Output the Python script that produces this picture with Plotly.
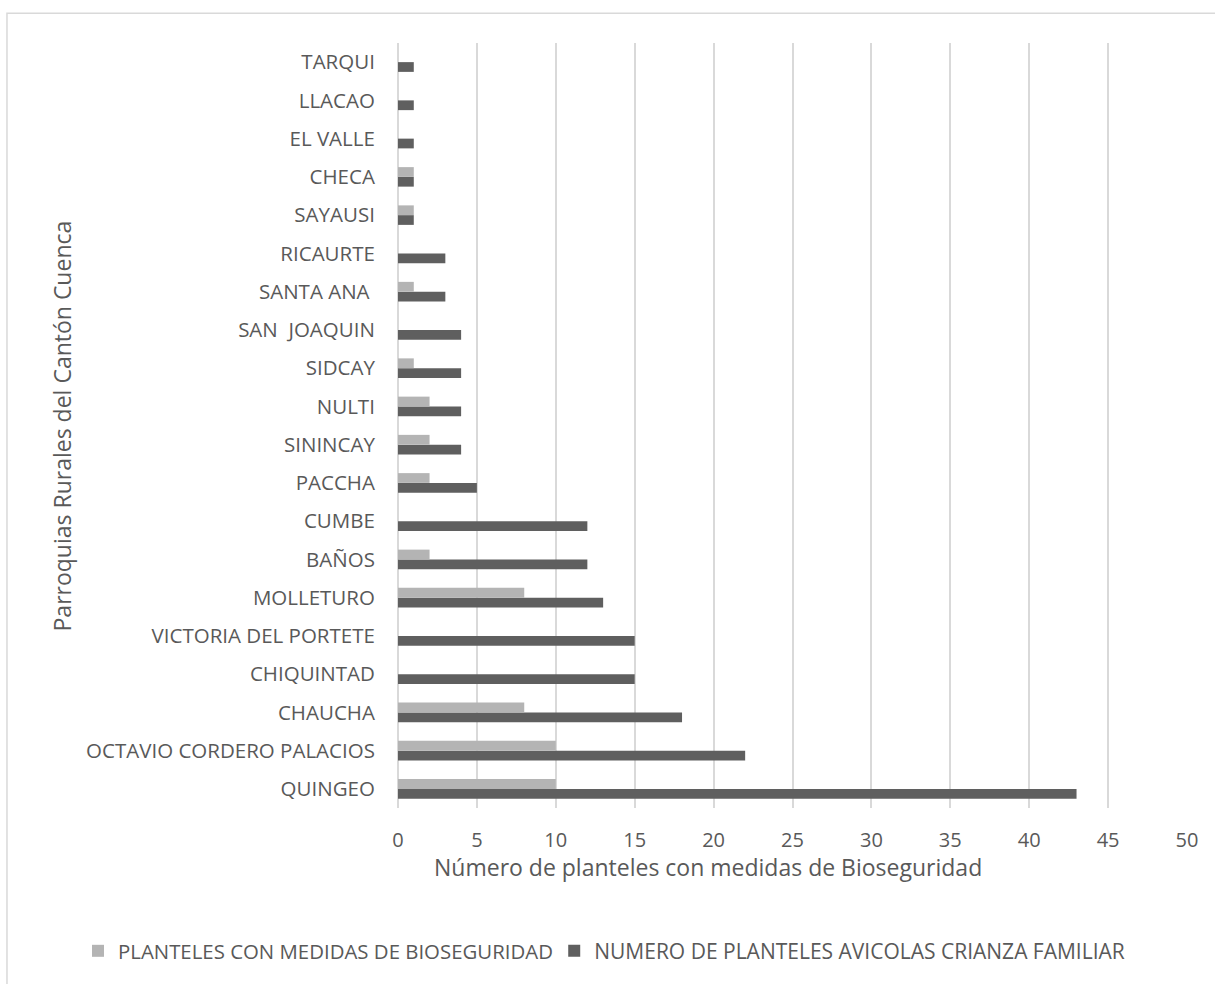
import plotly.graph_objects as go

# Parroquias listed from the bottom of the chart to the top
parroquias = [
    "QUINGEO", "OCTAVIO CORDERO PALACIOS", "CHAUCHA", "CHIQUINTAD",
    "VICTORIA DEL PORTETE", "MOLLETURO", "BAÑOS", "CUMBE", "PACCHA",
    "SININCAY", "NULTI", "SIDCAY", "SAN  JOAQUIN", "SANTA ANA ", "RICAURTE",
    "SAYAUSI", "CHECA", "EL VALLE", "LLACAO", "TARQUI",
]
planteles_avicolas = [43, 22, 18, 15, 15, 13, 12, 12, 5, 4, 4, 4, 4, 3, 3, 1, 1, 1, 1, 1]
planteles_bioseguridad = [10, 10, 8, 0, 0, 8, 2, 0, 2, 2, 2, 1, 0, 1, 0, 1, 1, 0, 0, 0]
x_ticks = [0, 5, 10, 15, 20, 25, 30, 35, 40, 45, 50]

FONT = "Open Sans"
TEXT = "#595959"
GRID = "#d9d9d9"

fig = go.Figure()
fig.add_trace(go.Bar(
    y=parroquias, x=planteles_avicolas, orientation="h",
    name="NUMERO DE PLANTELES AVICOLAS CRIANZA FAMILIAR",
    marker=dict(color="#5f5f5f", line=dict(width=0)),
    legend="legend2",
))
fig.add_trace(go.Bar(
    y=parroquias, x=planteles_bioseguridad, orientation="h",
    name="PLANTELES CON MEDIDAS DE BIOSEGURIDAD",
    marker=dict(color="#b4b4b4", line=dict(width=0)),
    legend="legend",
))

legend_style = dict(
    orientation="h", yanchor="middle", y=-0.187, xanchor="left",
    itemwidth=30, bgcolor="rgba(0,0,0,0)",
)

fig.update_layout(
    width=1215, height=984,
    margin=dict(l=398, r=28, t=43, b=171),
    paper_bgcolor="white", plot_bgcolor="white",
    barmode="group", bargap=0.49, bargroupgap=0,
    font=dict(family=FONT, color=TEXT, size=20),
    showlegend=True,
    legend=dict(legend_style, x=-0.4056, font=dict(size=20.4, color=TEXT)),
    legend2=dict(legend_style, x=0.198, font=dict(size=21, color=TEXT)),
    xaxis=dict(
        range=[0, 50], tickvals=x_ticks, showgrid=True, gridcolor=GRID,
        gridwidth=1.5, zeroline=True, zerolinecolor=GRID, zerolinewidth=1.5,
        showline=False, ticks="outside", ticklen=14, tickcolor="rgba(0,0,0,0)",
        tickfont=dict(size=20, color=TEXT),
    ),
    yaxis=dict(
        categoryorder="array", categoryarray=parroquias,
        showgrid=False, showline=False, ticks="outside", ticklen=18,
        tickcolor="rgba(0,0,0,0)", tickfont=dict(size=20.5, color=TEXT),
    ),
    annotations=[
        dict(text="Número de planteles con medidas de Bioseguridad",
             xref="paper", yref="paper", x=0.393, y=-0.077,
             xanchor="center", yanchor="middle", showarrow=False,
             font=dict(size=23, color=TEXT)),
        dict(text="Parroquias Rurales del Cantón Cuenca",
             xref="paper", yref="paper", x=-0.4259, y=0.5, textangle=-90,
             xanchor="center", yanchor="middle", showarrow=False,
             font=dict(size=23, color=TEXT)),
    ],
    shapes=[
        dict(type="rect", xref="paper", yref="paper",
             x0=-0.4956, x1=1.2, y0=-0.4, y1=1.039,
             line=dict(color=GRID, width=1.5), fillcolor="rgba(0,0,0,0)",
             layer="below"),
    ],
)

fig.write_html("out.html")
